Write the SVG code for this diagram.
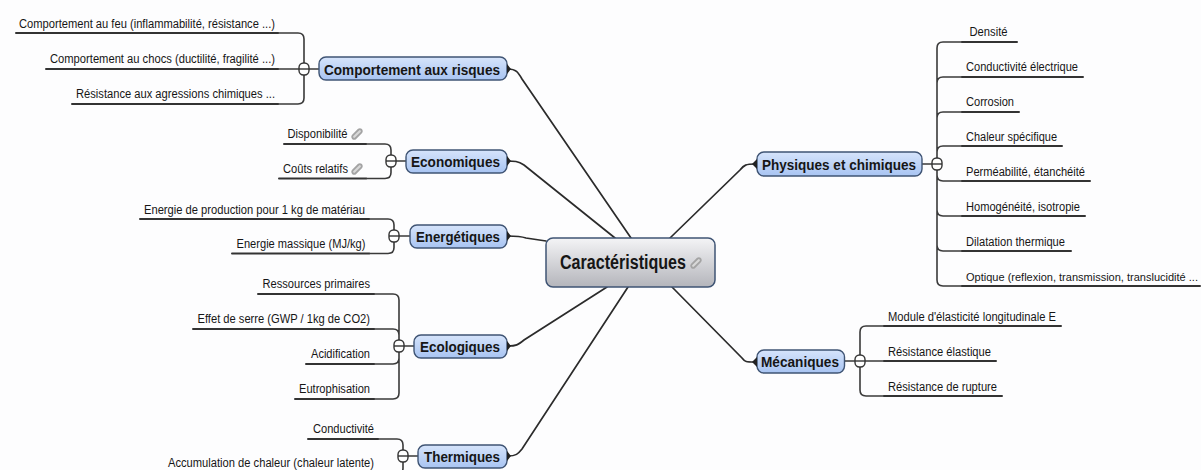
<svg xmlns="http://www.w3.org/2000/svg" width="1201" height="470" viewBox="0 0 1201 470">
<style>
text{font-family:"Liberation Sans",Arial,sans-serif;fill:#161616}
.leaf{font-size:12px}
.fit{font-size:11.200px}
.topic{font-size:15.5px;font-weight:bold}
.root{font-size:20px;font-weight:bold}
.node{fill:url(#blue);stroke:#3f5474;stroke-width:1.4}
.ln{fill:none;stroke:#333;stroke-width:2;stroke-linecap:round}
.br{fill:none;stroke:#3a3a3a;stroke-width:1.6}
.cn{fill:none;stroke:#2b2b2b;stroke-width:1.7;stroke-linecap:round}
.tg{fill:#fff;stroke:#333;stroke-width:1.4}
.clip{fill:#d8d8d8;stroke:#a4a4a4;stroke-width:1.8}
.tip{fill:#222}
</style>
<defs>
<linearGradient id="blue" x1="0" y1="0" x2="0" y2="1"><stop offset="0" stop-color="#d6e4fb"/><stop offset="1" stop-color="#a8c4f2"/></linearGradient>
<linearGradient id="grey" x1="0" y1="0" x2="0" y2="1"><stop offset="0" stop-color="#f4f4f6"/><stop offset="1" stop-color="#b4b5bb"/></linearGradient>
<g id="toggle"><rect class="tg" x="-5" y="-6" width="10" height="12" rx="4.500"/><path d="M-5 0H5" stroke="#333" stroke-width="1.4"/></g>
<rect id="pc" class="clip" x="-6" y="-2" width="12" height="4" rx="2" transform="rotate(-45)"/>
</defs>
<rect width="1201" height="470" fill="#fdfdfe"/>
<g id="connectors">
<path class="cn" d="M508 69C516 69 518 72 522 79L631 238"/>
<path class="cn" d="M508 161C514 161 518 161 524 165L615 238"/>
<path class="cn" d="M508 236C516 236 520 236 526 238L546 241"/>
<path class="cn" d="M508 346C516 346 518 345 524 340L607 287"/>
<path class="cn" d="M508 456C516 456 518 454 522 449L628 287"/>
<path class="cn" d="M755 164C746 164 744 165 740 170L670 238"/>
<path class="cn" d="M755 362C746 362 745 362 742 358L672 287"/>
<path class="ln" d="M16 33H278"/><path class="ln" d="M46 69H278"/><path class="ln" d="M72 104H278"/>
<path class="br" d="M278 33H298Q304 33 304 39V98Q304 104 298 104H278M278 69H319"/>
<path class="ln" d="M284 144H366"/><path class="ln" d="M279 178.500H366"/>
<path class="br" d="M366 144H385Q391 144 391 150V172.500Q391 178.500 385 178.500H366M391 161H406"/>
<path class="ln" d="M140 219H369"/><path class="ln" d="M232 253.500H369"/>
<path class="br" d="M369 219H388Q394 219 394 225V247.500Q394 253.500 388 253.500H369M394 236H410"/>
<path class="ln" d="M258 294H374"/><path class="ln" d="M193 329H374"/><path class="ln" d="M306 364H374"/><path class="ln" d="M295 399H374"/>
<path class="br" d="M374 294H393Q399 294 399 300V393Q399 399 393 399H374M374 329H393Q399 329 399 335M374 364H393Q399 364 399 358M399 346H414"/>
<path class="ln" d="M308 439H378"/><path class="ln" d="M163 474H378"/>
<path class="br" d="M378 439H397Q403 439 403 445V468Q403 474 397 474H378M403 456H418"/>
<path class="ln" d="M962 42H1017"/><path class="ln" d="M962 77H1083"/><path class="ln" d="M962 112H1019"/><path class="ln" d="M962 146H1062"/><path class="ln" d="M962 181H1090"/><path class="ln" d="M962 216H1085"/><path class="ln" d="M962 251H1071"/><path class="ln" d="M962 286H1200"/>
<path class="br" d="M962 42H943Q937 42 937 48V280Q937 286 943 286H962M962 77H943Q937 77 937 83M962 112H943Q937 112 937 118M962 146H943Q937 146 937 152M962 181H943Q937 181 937 175M962 216H943Q937 216 937 210M962 251H943Q937 251 937 245M922 164H937"/>
<path class="ln" d="M884 326H1061"/><path class="ln" d="M884 361H996"/><path class="ln" d="M884 396H1002"/>
<path class="br" d="M884 326H866Q860 326 860 332V390Q860 396 866 396H884M845 361H884"/>
</g>
<g id="root"><rect x="546" y="238" width="169" height="49" rx="7" fill="url(#grey)" stroke="#3f5474" stroke-width="1.5"/><text class="root" x="560" y="269" textLength="126" lengthAdjust="spacingAndGlyphs">Caractéristiques</text><use href="#pc" x="696" y="263"/></g>
<g id="n-risques"><rect class="node" x="319" y="57" width="188" height="23" rx="7"/><path class="tip" d="M507 64L511 69L507 74Z"/><text class="topic" x="324" y="74.500" textLength="176" lengthAdjust="spacingAndGlyphs">Comportement aux risques</text><use href="#toggle" x="304" y="69"/>
<text class="leaf" x="19" y="28" textLength="256" lengthAdjust="spacingAndGlyphs">Comportement au feu (inflammabilité, résistance ...)</text>
<text class="leaf" x="50" y="63" textLength="225" lengthAdjust="spacingAndGlyphs">Comportement au chocs (ductilité, fragilité ...)</text>
<text class="leaf" x="76" y="98" textLength="199" lengthAdjust="spacingAndGlyphs">Résistance aux agressions chimiques ...</text></g>
<g id="n-eco"><rect class="node" x="406" y="150" width="101" height="23" rx="7"/><path class="tip" d="M507 156L511 161L507 166Z"/><text class="topic" x="411" y="166.500" textLength="89" lengthAdjust="spacingAndGlyphs">Economiques</text><use href="#toggle" x="391" y="161"/>
<text class="leaf" x="287.500" y="138" textLength="60" lengthAdjust="spacingAndGlyphs">Disponibilité</text><use href="#pc" x="357" y="134"/>
<text class="leaf" x="283" y="173" textLength="65" lengthAdjust="spacingAndGlyphs">Coûts relatifs</text><use href="#pc" x="357" y="169"/></g>
<g id="n-ener"><rect class="node" x="410" y="225" width="97" height="23" rx="7"/><path class="tip" d="M507 231L511 236L507 241Z"/><text class="topic" x="416" y="241.500" textLength="84" lengthAdjust="spacingAndGlyphs">Energétiques</text><use href="#toggle" x="394" y="236"/>
<text class="leaf" x="144" y="214" textLength="221" lengthAdjust="spacingAndGlyphs">Energie de production pour 1 kg de matériau</text>
<text class="leaf" x="236.500" y="248" textLength="129" lengthAdjust="spacingAndGlyphs">Energie massique (MJ/kg)</text></g>
<g id="n-ecol"><rect class="node" x="414" y="335" width="93" height="23" rx="7"/><path class="tip" d="M507 341L511 346L507 351Z"/><text class="topic" x="420" y="351.500" textLength="80" lengthAdjust="spacingAndGlyphs">Ecologiques</text><use href="#toggle" x="399" y="346"/>
<text class="leaf" x="262.500" y="288" textLength="107.500" lengthAdjust="spacingAndGlyphs">Ressources primaires</text>
<text class="leaf" x="197.500" y="323" textLength="172.500" lengthAdjust="spacingAndGlyphs">Effet de serre (GWP / 1kg de CO2)</text>
<text class="leaf" x="311" y="358" textLength="59" lengthAdjust="spacingAndGlyphs">Acidification</text>
<text class="leaf" x="299" y="393" textLength="71" lengthAdjust="spacingAndGlyphs">Eutrophisation</text></g>
<g id="n-therm"><rect class="node" x="418" y="445" width="89" height="23" rx="7"/><path class="tip" d="M507 451L511 456L507 461Z"/><text class="topic" x="424" y="461.500" textLength="76" lengthAdjust="spacingAndGlyphs">Thermiques</text><use href="#toggle" x="403" y="456"/>
<text class="leaf" x="313" y="433" textLength="61" lengthAdjust="spacingAndGlyphs">Conductivité</text>
<text class="leaf" x="168" y="467" textLength="206" lengthAdjust="spacingAndGlyphs">Accumulation de chaleur (chaleur latente)</text></g>
<g id="n-phys"><rect class="node" x="757" y="152" width="165" height="24" rx="7"/><path class="tip" d="M757 159L752 164L757 169Z"/><text class="topic" x="762" y="169.500" textLength="154" lengthAdjust="spacingAndGlyphs">Physiques et chimiques</text><use href="#toggle" x="937" y="164"/>
<text class="leaf" x="969.500" y="36" textLength="38" lengthAdjust="spacingAndGlyphs">Densité</text>
<text class="leaf" x="966" y="71" textLength="112" lengthAdjust="spacingAndGlyphs">Conductivité électrique</text>
<text class="leaf" x="966" y="106" textLength="48" lengthAdjust="spacingAndGlyphs">Corrosion</text>
<text class="leaf" x="966" y="141" textLength="91" lengthAdjust="spacingAndGlyphs">Chaleur spécifique</text>
<text class="leaf" x="966" y="176" textLength="119" lengthAdjust="spacingAndGlyphs">Perméabilité, étanchéité</text>
<text class="leaf" x="966" y="211" textLength="114" lengthAdjust="spacingAndGlyphs">Homogénéité, isotropie</text>
<text class="leaf" x="966" y="246" textLength="99" lengthAdjust="spacingAndGlyphs">Dilatation thermique</text>
<text class="fit" x="966" y="281" textLength="232" lengthAdjust="spacingAndGlyphs">Optique (reflexion, transmission, translucidité ...</text></g>
<g id="n-meca"><rect class="node" x="757" y="350" width="87.500" height="23" rx="7"/><path class="tip" d="M757 357L752 362L757 367Z"/><text class="topic" x="761" y="367" textLength="78" lengthAdjust="spacingAndGlyphs">Mécaniques</text><use href="#toggle" x="860" y="361"/>
<text class="leaf" x="888" y="321" textLength="168" lengthAdjust="spacingAndGlyphs">Module d'élasticité longitudinale E</text>
<text class="leaf" x="888" y="356" textLength="103" lengthAdjust="spacingAndGlyphs">Résistance élastique</text>
<text class="leaf" x="888" y="391" textLength="109" lengthAdjust="spacingAndGlyphs">Résistance de rupture</text></g>
</svg>
